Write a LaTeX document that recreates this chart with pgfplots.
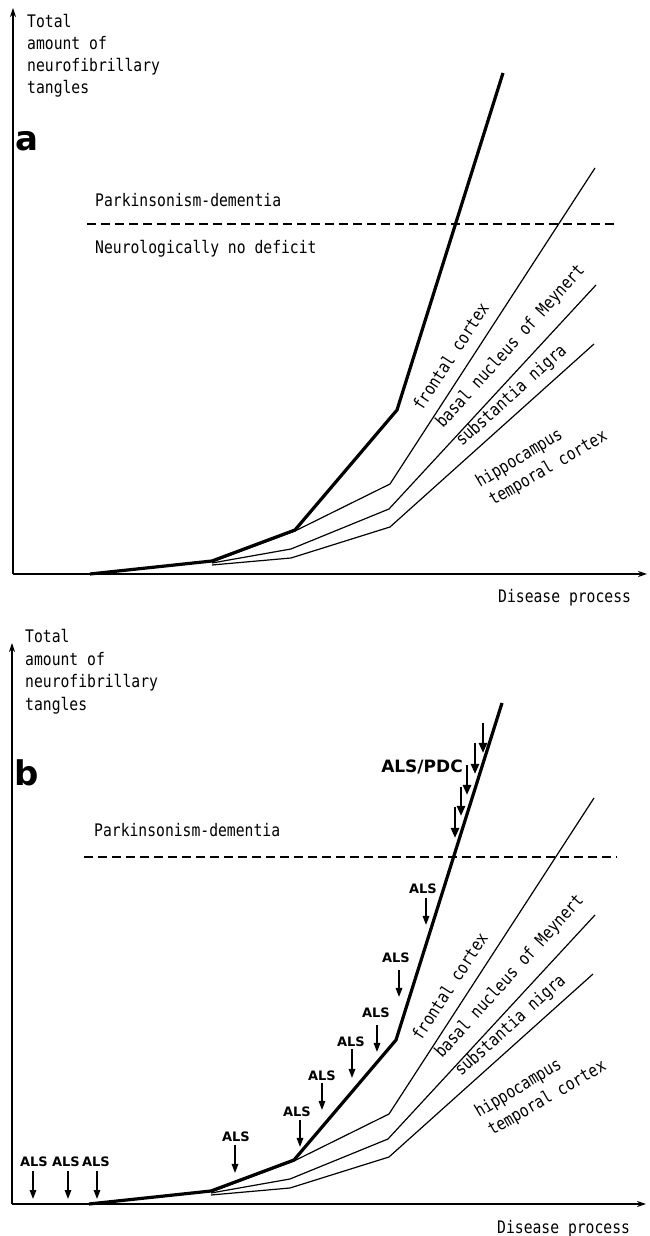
\documentclass[border=0pt]{standalone}
\usepackage{fontspec}
\setmainfont{DejaVu Sans}
\newfontfamily\plotfont[FakeStretch=0.85]{DejaVu Sans Mono}
\usepackage{pgfplots}
\usepackage{pgfplotstable}
\pgfplotsset{compat=1.18}
\usetikzlibrary{arrows.meta}
\newcommand\pf{\plotfont\fontsize{17.3}{22}\selectfont}
\newcommand\alsf{\bfseries\fontsize{13}{15}\selectfont}

\pgfplotstableread{
x y
90 0
212 13
295 44
397 164
503 501
}\thickline
\pgfplotstableread{
x y
212 12
295 43
390 90
595 406
}\lineB
\pgfplotstableread{
x y
212 11
291 25
389 65
596 289
}\lineC
\pgfplotstableread{
x y
212 9
291 16
390 47
594 230
}\lineD

\pgfplotsset{panel/.style={
  scale only axis, anchor=south west,
  width=634pt, xmin=13, xmax=647, ymin=0,
  axis lines=left,
  axis line style={line width=1.4pt, -{Stealth[length=9pt,width=6pt]}},
  xtick=\empty, ytick=\empty, clip=false}}

\newcommand\common{%
  \addplot[line width=3.2pt, line join=round] table {\thickline};
  \addplot[line width=1.2pt] table {\lineB};
  \addplot[line width=1.2pt] table {\lineC};
  \addplot[line width=1.2pt] table {\lineD};
  \node[anchor=base west, rotate=57, inner sep=0pt] at (axis cs:422,162) {\pf frontal cortex};
  \node[anchor=base west, rotate=48, inner sep=0pt] at (axis cs:443,145) {\pf basal nucleus of Meynert};
  \node[anchor=base west, rotate=42, inner sep=0pt] at (axis cs:462,127) {\pf substantia nigra};
  \node[anchor=base west, rotate=31, inner sep=0pt] at (axis cs:480,86) {\pf hippocampus};
  \node[anchor=base west, rotate=30, inner sep=0pt] at (axis cs:493,68) {\pf temporal cortex};
  \node[anchor=base west, inner sep=0pt] at (axis cs:95,367) {\pf Parkinsonism-dementia};
  \node[anchor=base west, inner sep=0pt] at (axis cs:498,-29) {\pf Disease process};
}
\newcommand\als[5]{%
  \node[inner sep=0pt] at (axis cs:#1,#2) {\alsf ALS};
  \draw[line width=1.5pt, -{Triangle[length=9pt,width=6.5pt]}] (axis cs:#3,#4) -- (axis cs:#3,#5);
}
\newcommand\pdcarrow[3]{%
  \draw[line width=2.8pt, -{Triangle[length=10pt,width=8pt]}] (axis cs:#1,#2) -- (axis cs:#1,#3);
}

\begin{document}
\begin{tikzpicture}
\path[use as bounding box] (0,0) rectangle (649pt,1236pt);

% Panel a
\begin{axis}[panel, at={(13pt,662pt)}, height=566pt, ymax=566]
  \common
  \draw[line width=1.2pt, dash pattern=on 9pt off 5pt] (axis cs:87,350) -- (axis cs:618,350);
  \node[anchor=base west, inner sep=0pt] at (axis cs:95,320) {\pf Neurologically no deficit};
  \node[anchor=base west, inner sep=0pt] at (axis cs:27,546) {\pf Total};
  \node[anchor=base west, inner sep=0pt] at (axis cs:27,524) {\pf amount of};
  \node[anchor=base west, inner sep=0pt] at (axis cs:27,502) {\pf neurofibrillary};
  \node[anchor=base west, inner sep=0pt] at (axis cs:27,480) {\pf tangles};
  \node[anchor=base west, inner sep=0pt] at (axis cs:15,423) {\bfseries\fontsize{34}{36}\selectfont a};
\end{axis}

% Panel b
\begin{axis}[panel, at={(12pt,32pt)}, height=561pt, ymax=561]
  \common
  \draw[line width=1.2pt, dash pattern=on 9pt off 5pt] (axis cs:85,347) -- (axis cs:618,347);
  \node[anchor=base west, inner sep=0pt] at (axis cs:26,561) {\pf Total};
  \node[anchor=base west, inner sep=0pt] at (axis cs:26,538) {\pf amount of};
  \node[anchor=base west, inner sep=0pt] at (axis cs:26,516) {\pf neurofibrillary};
  \node[anchor=base west, inner sep=0pt] at (axis cs:26,493) {\pf tangles};
  \node[anchor=base west, inner sep=0pt] at (axis cs:15,418) {\bfseries\fontsize{34}{36}\selectfont b};
  \als{35}{42}{34}{33}{5}
  \als{67}{42}{69}{33}{5}
  \als{97}{42}{98}{33}{5}
  \als{237}{67}{236}{59}{31}
  \als{298}{92}{301}{84}{57}
  \als{323}{128}{323}{121}{94}
  \als{352}{162}{353}{155}{126}
  \als{377}{191}{378}{179}{152}
  \als{397}{246}{400}{234}{207}
  \als{424}{315}{427}{306}{279}
  \node[inner sep=0pt, font=\bfseries\fontsize{17}{20}\selectfont] at (axis cs:423,437) {ALS/PDC};
  \pdcarrow{484}{481}{451}
  \pdcarrow{476}{461}{430}
  \pdcarrow{468}{439}{409}
  \pdcarrow{462}{417}{388}
  \pdcarrow{456}{397}{366}
\end{axis}
\end{tikzpicture}
\end{document}
